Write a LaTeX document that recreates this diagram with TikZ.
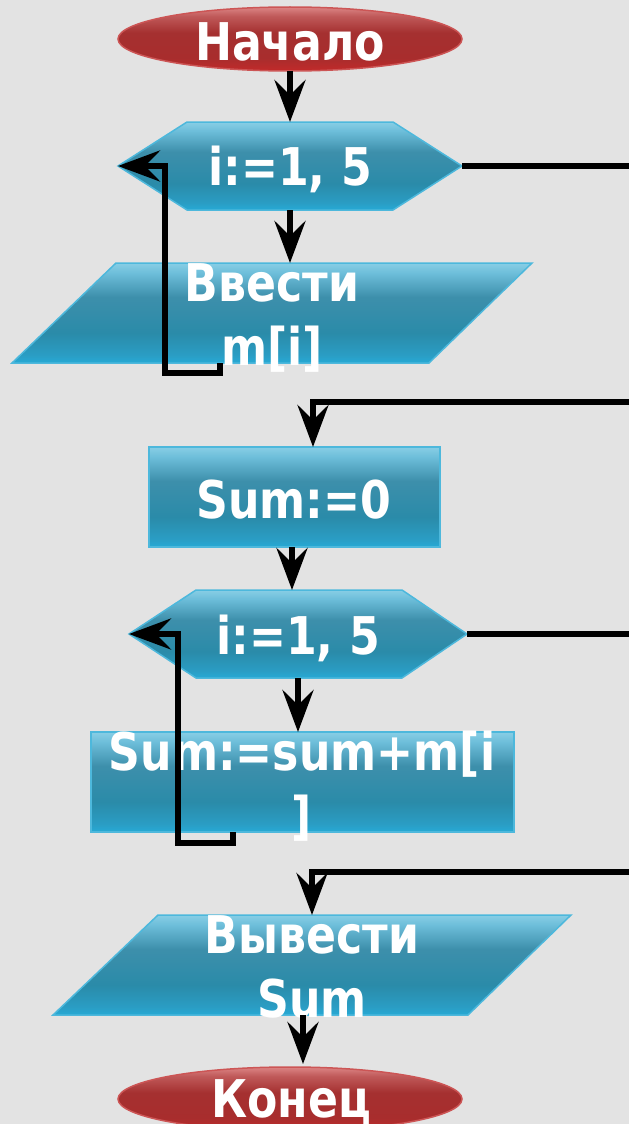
\documentclass[tikz,border=0pt]{standalone}
\usepackage{fontspec}
\newfontfamily\lblfont{DejaVu Sans}[FakeStretch=0.85]
\usetikzlibrary{arrows.meta}
\definecolor{bg}{HTML}{E3E3E3}
\definecolor{bA}{HTML}{26AAD6}
\definecolor{bB}{HTML}{2A9DC4}
\definecolor{bC}{HTML}{2A8BA9}
\definecolor{bD}{HTML}{3D8FAB}
\definecolor{bE}{HTML}{6DBEDA}
\definecolor{bF}{HTML}{88CEE5}
\definecolor{blueedge}{HTML}{4DB8DC}
\definecolor{rA}{HTML}{C22A2A}
\definecolor{rB}{HTML}{A82D2D}
\definecolor{rC}{HTML}{A53030}
\definecolor{rD}{HTML}{C05A5A}
\definecolor{rE}{HTML}{DC8585}
\definecolor{rededge}{HTML}{CC5555}
\pgfdeclareverticalshading{blueshade}{100bp}{color(0bp)=(bA); color(25bp)=(bA); color(29bp)=(bB); color(40bp)=(bC); color(58bp)=(bD); color(70bp)=(bE); color(75bp)=(bF); color(100bp)=(bF)}
\pgfdeclareverticalshading{redshade}{100bp}{color(0bp)=(rA); color(25bp)=(rA); color(35bp)=(rB); color(55bp)=(rC); color(68bp)=(rD); color(75bp)=(rE); color(100bp)=(rE)}
\begin{document}
\begin{tikzpicture}[x=1pt,y=-1pt,
  blueshape/.style={draw=blueedge, line width=1.5pt, shading=blueshade},
  redshape/.style={draw=rededge, line width=1.5pt, shading=redshade},
  lbl/.style={text=white, font=\lblfont\bfseries\fontsize{52}{64}\selectfont, inner sep=0pt, align=center, anchor=base},
  flow/.style={line width=6pt, -{Stealth[length=42pt,width=31pt,inset=15pt]}},
  wire/.style={line width=6pt}]
\useasboundingbox (0,0) rectangle (629,1124);
\fill[bg] (0,0) rectangle (629,1124);

% shapes
\path[redshape] (290,39) ellipse [x radius=172, y radius=32];
\path[blueshape] (187,122) -- (393,122) -- (462,166) -- (393,210) -- (187,210) -- (118,166) -- cycle;
\path[blueshape] (116,263) -- (532,263) -- (429,363) -- (12,363) -- cycle;
\path[blueshape] (149,447) rectangle (440,547);
\path[blueshape] (196,590) -- (402,590) -- (467,634) -- (402,678) -- (196,678) -- (129,634) -- cycle;
\path[blueshape] (91,732) rectangle (514,832);
\path[blueshape] (158,915) -- (571,915) -- (468,1015) -- (53,1015) -- cycle;
\path[redshape] (290,1099) ellipse [x radius=172, y radius=32];

% named points on the shapes
\coordinate (startB) at (290,71);
\coordinate (h1T) at (290,122);
\coordinate (h1B) at (290,210);
\coordinate (h1L) at (118,166);
\coordinate (h1R) at (462,166);
\coordinate (p1T) at (290,263);
\coordinate (p1B) at (220,363);
\coordinate (r1T) at (313,447);
\coordinate (r1B) at (292,547);
\coordinate (h2T) at (292,590);
\coordinate (h2B) at (298,678);
\coordinate (h2L) at (129,634);
\coordinate (h2R) at (467,634);
\coordinate (r2T) at (298,732);
\coordinate (r2B) at (233,832);
\coordinate (p2T) at (312,915);
\coordinate (p2B) at (303,1015);
\coordinate (endT) at (303,1064);
\coordinate (edge1) at (629,166);
\coordinate (edge2) at (629,402);
\coordinate (edge3) at (629,634);
\coordinate (edge4) at (629,872);

% texts
\node[lbl] (start) at (290,60) {Начало};
\node[lbl] (h1) at (290,185) {i:=1, 5};
\node[lbl] (p1) at (272,365) {Ввести\\m[i]};
\node[lbl] (r1) at (294,518) {Sum:=0};
\node[lbl] (h2) at (298,654) {i:=1, 5};
\node[lbl] (r2) at (302,834) {Sum:=sum+m[i\\]};
\node[lbl] (p2) at (312,1017) {Вывести\\Sum};
\node[lbl] (stop) at (291,1117) {Конец};

% connectors
\draw[flow] (startB) -- (h1T);
\draw[flow] (h1B) -- (p1T);
\draw[flow] (p1B) -- (220,373) -- (165,373) -- (165,166) -- (h1L);
\draw[wire] (h1R) -- (edge1);
\draw[flow] (edge2) -- (313,402) -- (r1T);
\draw[flow] (r1B) -- (h2T);
\draw[flow] (h2B) -- (r2T);
\draw[flow] (r2B) -- (233,843) -- (178,843) -- (178,634) -- (h2L);
\draw[wire] (h2R) -- (edge3);
\draw[flow] (edge4) -- (312,872) -- (p2T);
\draw[flow] (p2B) -- (endT);
\end{tikzpicture}
\end{document}
